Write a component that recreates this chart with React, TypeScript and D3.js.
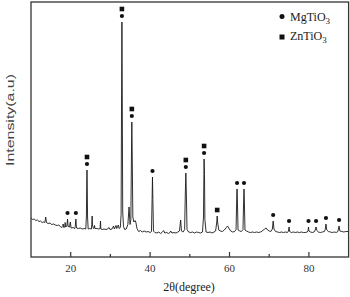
import React from 'react';
import * as d3 from 'd3';

// XRD pattern: [2theta, intensity (a.u.)]
const pattern: [number, number][] = [
  [10.0, 156], [10.4, 150], [10.8, 152], [11.2, 146], [11.6, 148], [12.0, 142],
  [12.4, 144], [12.8, 138], [13.2, 140], [13.5, 138], [13.7, 160], [13.9, 138],
  [14.3, 134], [14.8, 136], [15.2, 130], [15.7, 132], [16.1, 128], [16.6, 126],
  [17.0, 128], [17.4, 122], [17.8, 118], [18.0, 122], [18.1, 132], [18.25, 118],
  [18.5, 120], [18.6, 138], [18.75, 120], [19.05, 124], [19.2, 152], [19.35, 122],
  [19.7, 120], [19.9, 140], [20.1, 116], [20.6, 118], [21.0, 114], [21.15, 122],
  [21.3, 152], [21.45, 116], [21.9, 114], [22.4, 116], [22.9, 112], [23.4, 114],
  [23.8, 112], [23.95, 160], [24.05, 300], [24.1, 348], [24.15, 300], [24.25, 160],
  [24.4, 112], [24.8, 114], [25.2, 112], [25.3, 130], [25.4, 164], [25.5, 128],
  [25.7, 114], [25.9, 116], [26.0, 126], [26.1, 114], [26.6, 114], [27.1, 112],
  [27.4, 114], [27.5, 144], [27.6, 112], [27.9, 110], [28.4, 112], [28.9, 110],
  [29.3, 112], [29.6, 118], [29.9, 110], [30.4, 112], [30.8, 124], [31.0, 112],
  [31.4, 126], [31.6, 114], [32.0, 128], [32.2, 114], [32.5, 118], [32.7, 170],
  [32.8, 600], [32.9, 940], [33.0, 600], [33.1, 180], [33.3, 122], [33.6, 110],
  [34.0, 112], [34.4, 130], [34.7, 200], [34.95, 130], [35.15, 150], [35.3, 400],
  [35.4, 540], [35.5, 400], [35.65, 160], [35.9, 140], [36.2, 146], [36.4, 140],
  [36.7, 114], [37.1, 102], [37.6, 106], [38.0, 100], [38.5, 104], [39.0, 100],
  [39.5, 102], [40.0, 98], [40.35, 102], [40.5, 230], [40.6, 320], [40.7, 230],
  [40.85, 104], [41.2, 98], [41.7, 96], [42.2, 100], [42.6, 94], [43.0, 98],
  [43.4, 106], [43.7, 96], [44.2, 98], [44.6, 94], [45.0, 98], [45.2, 104],
  [45.5, 96], [46.0, 98], [46.5, 96], [47.0, 100], [47.4, 104], [47.7, 148],
  [47.9, 104], [48.3, 100], [48.7, 110], [48.85, 240], [49.0, 336], [49.15, 240],
  [49.3, 110], [49.7, 100], [50.2, 98], [50.7, 100], [51.2, 96], [51.7, 100],
  [52.2, 98], [52.7, 96], [53.2, 100], [53.45, 160], [53.55, 330], [53.6, 392],
  [53.7, 330], [53.8, 150], [54.1, 100], [54.6, 98], [55.1, 100], [55.6, 96],
  [56.1, 100], [56.5, 104], [56.8, 140], [56.9, 164], [57.0, 140], [57.3, 108],
  [57.7, 104], [58.2, 102], [58.7, 108], [59.2, 118], [59.5, 124], [59.8, 116],
  [60.3, 104], [60.8, 100], [61.3, 102], [61.65, 110], [61.8, 220], [61.9, 272],
  [62.0, 220], [62.15, 108], [62.6, 104], [63.0, 102], [63.4, 110], [63.55, 220],
  [63.65, 272], [63.75, 220], [63.9, 108], [64.3, 104], [64.8, 100], [65.3, 98],
  [65.8, 100], [66.3, 98], [66.8, 100], [67.3, 98], [67.8, 100], [68.3, 104],
  [68.8, 112], [69.2, 116], [69.6, 108], [70.0, 104], [70.4, 102], [70.8, 112],
  [71.0, 144], [71.2, 112], [71.6, 102], [72.1, 100], [72.6, 98], [73.1, 100],
  [73.6, 98], [74.1, 100], [74.6, 98], [74.85, 104], [75.0, 120], [75.15, 102],
  [75.6, 98], [76.1, 100], [76.6, 98], [77.1, 100], [77.6, 98], [78.1, 100],
  [78.6, 98], [79.1, 98], [79.6, 100], [79.8, 106], [79.9, 120], [80.0, 104],
  [80.4, 100], [80.9, 98], [81.3, 100], [81.6, 108], [81.8, 120], [82.0, 106],
  [82.4, 100], [82.9, 98], [83.4, 100], [83.9, 102], [84.1, 110], [84.3, 132],
  [84.5, 108], [84.9, 102], [85.4, 100], [85.9, 98], [86.4, 100], [86.9, 98],
  [87.3, 102], [87.6, 124], [87.8, 104], [88.3, 102], [88.8, 100], [89.3, 102],
  [90.0, 102],
];

// indexed peaks: [2theta, peak intensity]
const mgPeaks: [number, number][] = [
  [19.2, 152], [21.3, 152], [24.1, 348], [32.9, 940], [35.4, 540], [40.6, 320],
  [49.0, 336], [53.6, 392], [61.9, 272], [63.65, 272], [71.0, 144], [75.0, 120],
  [79.9, 120], [81.8, 120], [84.3, 132], [87.6, 124],
];
const znPeaks: [number, number][] = [
  [24.1, 348], [32.9, 940], [35.4, 540], [49.0, 336], [53.6, 392], [56.9, 164],
];

const majorTicks = [20, 40, 60, 80];
const minorTicks = [30, 50, 70];

const W = 350;
const H = 297;
const left = 31;
const right = 348.6;
const top = 2;
const bottom = 257;

export default function App() {
  const x = d3.scaleLinear().domain([10, 90]).range([left, right]);
  const y = d3.scaleLinear().domain([0, 1020]).range([bottom, top]);
  const line = d3.line<[number, number]>().x(d => x(d[0])).y(d => y(d[1]));
  const font = '"Liberation Serif", "Times New Roman", serif';

  const mgSet = new Set(mgPeaks.map(p => p[0]));

  return (
    <svg width={W} height={H} style={{ position: 'absolute', left: 0, top: 0, background: '#fff' }}>
      <path d={line(pattern) || ''} fill="none" stroke="#1a1a1a" strokeWidth={0.9} />
      <rect x={left} y={top} width={right - left} height={bottom - top} fill="none" stroke="#333" strokeWidth={1.3} />
      {majorTicks.map(t => (
        <g key={t}>
          <line x1={x(t)} x2={x(t)} y1={bottom} y2={bottom - 5} stroke="#333" strokeWidth={1.2} />
          <text x={x(t)} y={272} textAnchor="middle" fontFamily={font} fontSize={11} fill="#333">{t}</text>
        </g>
      ))}
      {minorTicks.map(t => (
        <line key={t} x1={x(t)} x2={x(t)} y1={bottom} y2={bottom - 3} stroke="#333" strokeWidth={1.2} />
      ))}
      {mgPeaks.map(p => (
        <circle key={'m' + p[0]} cx={x(p[0])} cy={y(p[1]) - 6} r={2.1} fill="#111" />
      ))}
      {znPeaks.map(p => (
        <rect key={'z' + p[0]} x={x(p[0]) - 2.3} y={y(p[1]) - (mgSet.has(p[0]) ? 13 : 6) - 2.3}
          width={4.6} height={4.6} fill="#111" />
      ))}
      <circle cx={282} cy={16.5} r={2.5} fill="#111" />
      <text x={290} y={20.5} fontFamily={font} fontSize={12} fill="#222">
        MgTiO<tspan fontSize={9} dy={3}>3</tspan>
      </text>
      <rect x={279.5} y={34.5} width={5} height={5} fill="#111" />
      <text x={290} y={40} fontFamily={font} fontSize={12} fill="#222">
        ZnTiO<tspan fontSize={9} dy={3}>3</tspan>
      </text>
      <text x={189} y={291} textAnchor="middle" fontFamily={font} fontSize={12} fill="#222">2θ(degree)</text>
      <text transform="translate(14,120) rotate(-90)" textAnchor="middle"
        fontFamily='"Liberation Sans", Arial, sans-serif' fontSize={10.5}
        textLength={92} lengthAdjust="spacingAndGlyphs" fill="#444">Intensity(a.u)</text>
    </svg>
  );
}
